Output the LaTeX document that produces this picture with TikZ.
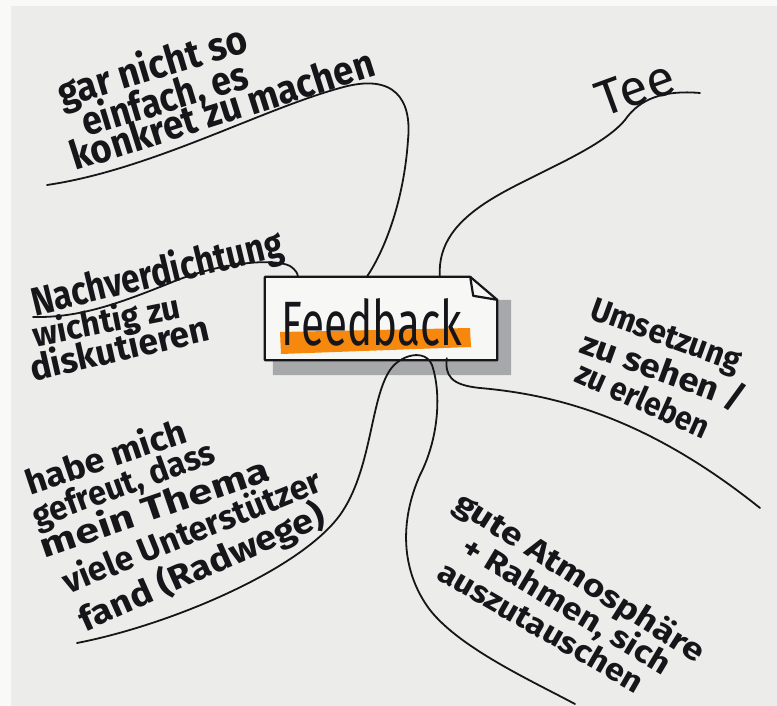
\documentclass[tikz,border=0pt]{standalone}
\usepackage{fontspec}
\usepackage{graphicx}
\setmainfont{Fira Sans}
\usetikzlibrary{calc}
\definecolor{paper}{RGB}{236,236,234}
\definecolor{paperedge}{RGB}{249,249,248}
\definecolor{boxfill}{RGB}{247,247,246}
\definecolor{ink}{RGB}{22,22,26}
\definecolor{shadowgray}{RGB}{166,168,170}
\definecolor{marker}{RGB}{246,136,14}
\newcommand\hwline[2]{\resizebox{#1pt}{\height}{#2}}
\tikzset{
  hw/.style={anchor=base west, inner sep=0pt, outer sep=0pt, text=ink, font=\fontsize{#1}{#1}\selectfont\bfseries},
  hw/.default=32,
  branch/.style={draw=ink, line width=1.8pt, line cap=round, line join=round},
  boxline/.style={draw=ink, line width=2.2pt, line join=round}
}
\begin{document}
\begin{tikzpicture}[x=1pt,y=-1pt]
\useasboundingbox (0,0) rectangle (777,706);
\fill[paperedge] (0,0) rectangle (777,706);
\fill[paper] (11,6) rectangle (777,706);

% central box
\node[minimum width=232pt, minimum height=83pt, inner sep=0pt, draw=none] (fb) at (381,318.5) {};
\fill[shadowgray] ($(fb.north east)+(0,23)$) -- ($(fb.north east)+(14,23)$) -- ($(fb.south east)+(14,15)$) -- ($(fb.south west)+(8,15)$) -- ($(fb.south west)+(8,0)$) -- (fb.south east) -- cycle;
\path[boxline, fill=boxfill] (fb.south west) -- (fb.north west) -- ($(fb.north east)+(-27,0)$) -- ($(fb.north east)+(0,23)$) -- (fb.south east) -- cycle;
\draw[boxline] ($(fb.north east)+(-27,0)$) -- ($(fb.north east)+(-24,19)$) -- ($(fb.north east)+(0,23)$);
\fill[marker] (280,332) -- (470,328) -- (471,347) -- (281,354) -- cycle;
\node[anchor=base, inner sep=0pt, text=ink, font=\fontsize{62}{62}\selectfont] (fbt) at (372,345) {\resizebox{180pt}{47pt}{Feedback}};

% named ends of the branches
\coordinate (aEnd) at (47,185);
\coordinate (aBox) at ($(fb.north west)+(102,0)$);
\coordinate (bEnd) at (700,93);
\coordinate (bBox) at ($(fb.north west)+(175,0)$);
\coordinate (cEnd) at (33,317);
\coordinate (cBox) at ($(fb.north west)+(33,0)$);
\coordinate (dEnd) at (77,643);
\coordinate (eEnd) at (575,704);
\coordinate (fBox) at ($(fb.south west)+(182,-2)$);
\coordinate (fEnd) at (760,508);

% branches
\draw[branch] (aEnd) .. controls (150,170) and (260,110) .. (340,88) .. controls (395,72) and (412,100) .. (408,140) .. controls (404,200) and (385,250) .. (aBox);
\draw[branch] (bEnd) .. controls (665,90) and (640,98) .. (625,120) .. controls (600,150) and (530,175) .. (490,200) .. controls (455,222) and (438,245) .. (bBox);
\draw[branch] (cEnd) .. controls (80,318) and (120,303) .. (170,283) .. controls (220,262) and (275,258) .. (290,266) .. controls (296,270) and (298,274) .. (cBox);
\draw[branch] (dEnd) .. controls (170,625) and (300,570) .. (340,515) .. controls (372,470) and (370,400) .. (390,370) .. controls (400,355) and (425,348) .. (432,365) .. controls (442,395) and (438,440) .. (420,475) .. controls (400,520) and (400,570) .. (430,610) .. controls (460,648) and (530,680) .. (eEnd);
\draw[branch] (fBox) .. controls (445,375) and (450,385) .. (480,388) .. controls (560,395) and (650,420) .. (fEnd);

% texts
\node[hw=40, rotate=16.7] (ta1) at (62,108) {\hwline{196}{gar nicht so}};
\node[hw=40, rotate=16.8] (ta2) at (86,137) {\hwline{172}{einfach, es}};
\node[hw=40, rotate=17.6] (ta3) at (76,171) {\hwline{316}{konkret zu machen}};

\node[anchor=base west, inner sep=0pt, text=ink, font=\fontsize{50}{50}\selectfont, rotate=20] (tb1) at (603,118) {\hwline{80}{Tee}};

\node[hw=40, rotate=13.5] (tc1) at (35,316) {\hwline{257}{Nachverdichtung}};
\node[hw=34, rotate=11.3] (tc2) at (35,347) {\hwline{150}{wichtig zu}};
\node[hw=36, rotate=12.8] (tc3) at (33,381) {\hwline{183}{diskutieren}};

\node[hw=34, rotate=18.5] (td1) at (30,495) {\hwline{168}{habe mich}};
\node[hw=34, rotate=20] (td2) at (37,528) {\hwline{192}{gefreut, dass}};
\node[hw=34, rotate=19] (td3) at (45,558) {\hwline{240}{mein Thema}};
\node[hw=34, rotate=22] (td4) at (68,594) {\hwline{276}{viele Unterstützer}};
\node[hw=34, rotate=24] (td5) at (85,632) {\hwline{266}{fand (Radwege)}};

\node[hw=33, rotate=-20] (tf1) at (588,318) {\hwline{158}{Umsetzung}};
\node[hw=33, rotate=-20] (tf2) at (578,352) {\hwline{173}{zu sehen /}};
\node[hw=33, rotate=-24] (tf3) at (573,381) {\hwline{143}{zu erleben}};

\node[hw=31, rotate=-32.5] (te1) at (452,508) {\hwline{290}{gute Atmosphäre}};
\node[hw=31, rotate=-31] (te2) at (459,553) {\hwline{238}{+ Rahmen, sich}};
\node[hw=31, rotate=-30] (te3) at (435,578) {\hwline{232}{auszutauschen}};
\end{tikzpicture}
\end{document}
